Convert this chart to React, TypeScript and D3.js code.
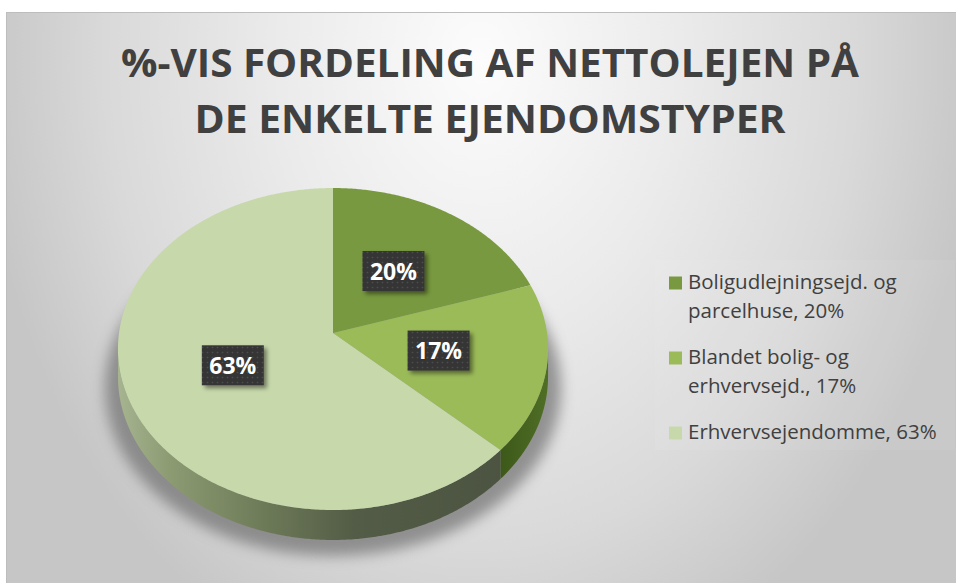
import React from "react";
import * as d3 from "d3";

const W = 956;
const H = 583;

const titleLines = ["%-VIS FORDELING AF NETTOLEJEN PÅ", "DE ENKELTE EJENDOMSTYPER"];
const categories = ["Boligudlejningsejd. og parcelhuse", "Blandet bolig- og erhvervsejd.", "Erhvervsejendomme"];
const values = [20, 17, 63];
const dataLabels = ["20%", "17%", "63%"];
const legendLines = [
  ["Boligudlejningsejd. og", "parcelhuse, 20%"],
  ["Blandet bolig- og", "erhvervsejd., 17%"],
  ["Erhvervsejendomme, 63%"],
];
const topColors = ["#78993f", "#9bbb59", "#c7d9ab"];

// perspective pie geometry
const CX = 333, CY = 333, A = 214, B = 159.4, K = 0.0994, DEPTH = 27;

function proj(a: number, r: number, h: number): [number, number] {
  const u = r * Math.sin(a);
  const v = r * Math.cos(a);
  const w = 1 + K * v;
  return [CX + (A * u) / w, CY - (B * v) / w + (DEPTH * h) / w];
}

function arcPoints(a0: number, a1: number, h: number) {
  const n = Math.max(2, Math.ceil(((a1 - a0) * 180) / Math.PI / 0.5));
  const pts: [number, number][] = [];
  for (let i = 0; i <= n; i++) pts.push(proj(a0 + ((a1 - a0) * i) / n, 1, h));
  return pts;
}

const line = d3.line().curve(d3.curveLinear);

export default function App() {
  const arcs = d3.pie<number>().sort(null).value((d) => d)(values);
  const aL = Math.acos(-K);
  const aR = 2 * Math.PI - aL;

  const legendY: number[][] = [];
  let y = 289;
  legendLines.forEach((lines) => {
    const ys = lines.map((_, i) => y + i * 29);
    legendY.push(ys);
    y = ys[ys.length - 1] + 46;
  });

  return (
    <svg width={W} height={H} style={{ position: "absolute", left: 0, top: 0 }}>
      <defs>
        <radialGradient id="bg" gradientUnits="userSpaceOnUse" cx={480} cy={60} r={500}
          gradientTransform="translate(480,60) scale(1,1.3) translate(-480,-60)">
          <stop offset="0" stopColor="#fcfcfc" />
          <stop offset="0.4" stopColor="#ebebeb" />
          <stop offset="0.75" stopColor="#d9d9d9" />
          <stop offset="1" stopColor="#c6c6c6" />
        </radialGradient>
        <linearGradient id="side2" gradientUnits="userSpaceOnUse" x1={118} y1={0} x2={547} y2={0}>
          <stop offset="0" stopColor="#a6b490" />
          <stop offset="0.12" stopColor="#8c9b72" />
          <stop offset="0.35" stopColor="#6c7957" />
          <stop offset="0.55" stopColor="#535c46" />
          <stop offset="1" stopColor="#4a5240" />
        </linearGradient>
        <linearGradient id="side1" gradientUnits="userSpaceOnUse" x1={500} y1={0} x2={547} y2={0}>
          <stop offset="0" stopColor="#3d5819" />
          <stop offset="1" stopColor="#4f6e25" />
        </linearGradient>
        <linearGradient id="side0" gradientUnits="userSpaceOnUse" x1={118} y1={0} x2={547} y2={0}>
          <stop offset="0" stopColor="#5f7a2e" />
          <stop offset="1" stopColor="#4a6322" />
        </linearGradient>
        <filter id="blur" x="-20%" y="-20%" width="140%" height="140%">
          <feGaussianBlur stdDeviation="7" />
        </filter>
        <filter id="lblShadow" x="-30%" y="-30%" width="160%" height="160%">
          <feDropShadow dx="3" dy="3" stdDeviation="2" floodColor="#000" floodOpacity="0.45" />
        </filter>
        <pattern id="dots" width="5" height="5" patternUnits="userSpaceOnUse">
          <rect width="5" height="5" fill="#363636" />
          <circle cx="2.5" cy="2.5" r="0.8" fill="#4e4e4e" />
        </pattern>
      </defs>

      <rect x={0} y={0} width={W} height={H} fill="#ffffff" />
      <rect x={6.5} y={12.5} width={W} height={H} fill="url(#bg)" stroke="#bdbdbd" strokeWidth={1} />

      {/* title */}
      {titleLines.map((t, i) => (
        <text key={i} x={490} y={77 + i * 56} textAnchor="middle"
          fontFamily="'Open Sans', sans-serif" fontWeight={700} fontSize={40}
          fill="#404040" textLength={i === 0 ? 738 : 591} lengthAdjust="spacingAndGlyphs">
          {t}
        </text>
      ))}

      {/* shadow */}
      <ellipse cx={CX} cy={388} rx={228} ry={168} fill="#707070" opacity={0.7} filter="url(#blur)" />

      {/* sides */}
      {arcs.map((a, i) => {
        const s = Math.max(a.startAngle, aL);
        const e = Math.min(a.endAngle, aR);
        if (s >= e) return null;
        const pts = [...arcPoints(s, e, 0), ...arcPoints(s, e, 1).reverse()];
        return <path key={"s" + i} d={line(pts) + "Z"} fill={`url(#side${i})`} />;
      })}

      {/* top faces */}
      {arcs.map((a, i) => {
        const pts = [proj(0, 0, 0), ...arcPoints(a.startAngle, a.endAngle, 0)];
        return <path key={"t" + i} d={line(pts) + "Z"} fill={topColors[i]} />;
      })}

      {/* data labels */}
      {arcs.map((a, i) => {
        const mid = (a.startAngle + a.endAngle) / 2;
        const [lx, ly] = proj(mid, 0.5, 0);
        const bw = 62, bh = 40;
        return (
          <g key={"l" + i} aria-label={categories[i]}>
            <rect x={lx - bw / 2} y={ly - bh / 2} width={bw} height={bh} fill="url(#dots)" filter="url(#lblShadow)" />
            <text x={lx} y={ly + 8.5} textAnchor="middle" fontFamily="'Open Sans', sans-serif"
              fontWeight={700} fontSize={23} fill="#ffffff">
              {dataLabels[i]}
            </text>
          </g>
        );
      })}

      {/* legend */}
      <rect x={655} y={260} width={300} height={190} fill="#ffffff" opacity={0.06} />
      {legendLines.map((lines, i) => (
        <g key={"lg" + i}>
          <rect x={669} y={legendY[i][0] - 12.5} width={13} height={13} fill={topColors[i]} />
          {lines.map((t, j) => (
            <text key={j} x={688} y={legendY[i][j]} fontFamily="'Open Sans', sans-serif"
              fontSize={20.5} fill="#404040">
              {t}
            </text>
          ))}
        </g>
      ))}
    </svg>
  );
}
